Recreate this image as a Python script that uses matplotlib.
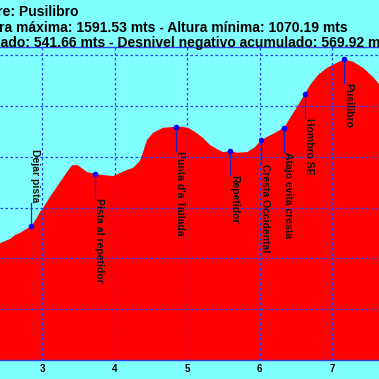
import matplotlib
matplotlib.use("Agg")
import matplotlib.pyplot as plt
from matplotlib.transforms import offset_copy

# ---- data ----
dist_km = [2.417, 2.555, 2.624, 2.692, 2.761, 2.851, 2.927, 2.968, 3.037, 3.106,
           3.175, 3.244, 3.341, 3.410, 3.479, 3.520, 3.617, 3.727, 3.837, 3.975,
           4.072, 4.168, 4.251, 4.348, 4.389, 4.444, 4.527, 4.665, 4.840, 4.927,
           5.010, 5.106, 5.217, 5.313, 5.410, 5.493, 5.589, 5.686, 5.824, 5.934,
           6.012, 6.099, 6.210, 6.334, 6.416, 6.513, 6.623, 6.692, 6.803, 6.927,
           7.065, 7.161, 7.285, 7.423, 7.561, 7.643]
elev_m = [1230, 1238, 1246, 1250, 1256, 1264, 1280, 1291, 1305, 1321,
          1335, 1350, 1370, 1383, 1384, 1380, 1370, 1366, 1364, 1362,
          1368, 1374, 1378, 1392, 1409, 1433, 1447, 1457, 1459, 1459,
          1457, 1449, 1437, 1423, 1415, 1409, 1411, 1408, 1409, 1419,
          1432, 1439, 1447, 1457, 1476, 1498, 1524, 1541, 1561, 1575,
          1585, 1591.5, 1587, 1575, 1557, 1543]

wp_names = ["Dejar pista", "Pista al repetidor", "Punta d'a Tailada", "Repetidor",
            "Cresta Occidental", "Atajo evita cresta", "Hombro SE", "Pusilibro"]
wp_km = [2.851, 3.727, 4.840, 5.589, 6.012, 6.334, 6.623, 7.161]
wp_elev = [1264, 1366, 1458, 1411, 1432, 1457, 1524, 1591.5]
wp_above = [True, False, False, False, False, False, False, False]

x_ticks = [3, 4, 5, 6, 7]
y_grid = [1100, 1200, 1300, 1400, 1500, 1600]

title_lines = ["Nombre: Pusilibro",
               "Altura máxima: 1591.53 mts - Altura mínima: 1070.19 mts",
               "Desnivel positivo acumulado: 541.66 mts - Desnivel negativo acumulado: 569.92 mts"]

# ---- figure ----
BG = "#80FFFF"
W = H = 379
fig = plt.figure(figsize=(W / 100, H / 100), dpi=100, facecolor=BG)
ax = fig.add_axes([0, (H - 360) / H, 1, (360 - 47) / H])
ax.set_facecolor(BG)
ax.set_xlim(2.417, 7.643)
ax.set_ylim(1000, 1616)

ax.fill_between(dist_km, elev_m, 900, color="#FF0000", lw=0, zorder=1)

ax.set_xticks(x_ticks)
ax.set_yticks(y_grid)
ax.set_yticklabels([])
ax.tick_params(axis="y", length=0)
ax.tick_params(axis="x", length=0, pad=3)
for lbl in ax.get_xticklabels():
    lbl.set_fontfamily("Liberation Sans")
    lbl.set_fontweight("bold")
    lbl.set_fontsize(7)
ax.grid(True, color="#2040FF", linestyle=(0, (2, 2)), linewidth=0.9, zorder=2)
ax.set_axisbelow(False)
for side in ("left", "right"):
    ax.spines[side].set_visible(False)
for side in ("top", "bottom"):
    ax.spines[side].set_color("#3040E0")
    ax.spines[side].set_linewidth(1)
    ax.spines[side].set_zorder(3)

fig.canvas.draw()
gap = 24
for name, xk, ye, above in zip(wp_names, wp_km, wp_elev, wp_above):
    px, py = ax.transData.transform((xk, ye))
    if above:
        end = ax.transData.inverted().transform((px, py + gap - 1))[1]
        ax.plot([xk, xk], [ye, end], color="#2020C0", lw=0.9, zorder=4)
        tr = offset_copy(ax.transData, fig, x=-1, y=gap - 1, units="dots")
        ax.text(xk, ye, name, rotation=-90, ha="left", va="bottom", transform=tr,
                fontsize=7.5, fontweight="bold", family="Liberation Sans",
                color="#101010", zorder=5)
    else:
        end = ax.transData.inverted().transform((px, py - gap))[1]
        ax.plot([xk, xk], [ye, end], color="#2020C0", lw=0.9, zorder=4)
        tr = offset_copy(ax.transData, fig, x=-1, y=-gap, units="dots")
        ax.text(xk, ye, name, rotation=-90, ha="left", va="top", transform=tr,
                fontsize=7.5, fontweight="bold", family="Liberation Sans",
                color="#101010", zorder=5)
ax.plot(wp_km, wp_elev, "o", color="#0000FF", ms=4, mec="none", zorder=6)

# title lines (clipped by the figure edges like the reference)
fig.text(78 / W, 1 - 16 / H, title_lines[0], ha="right", va="baseline",
         fontsize=10, fontweight="bold", family="Liberation Sans")
fig.text(348 / W, 1 - 31.5 / H, title_lines[1], ha="right", va="baseline",
         fontsize=10, fontweight="bold", family="Liberation Sans")
fig.text(393 / W, 1 - 46.5 / H, title_lines[2], ha="right", va="baseline",
         fontsize=10, fontweight="bold", family="Liberation Sans")

fig.savefig("out.png", dpi=100, facecolor=BG)
